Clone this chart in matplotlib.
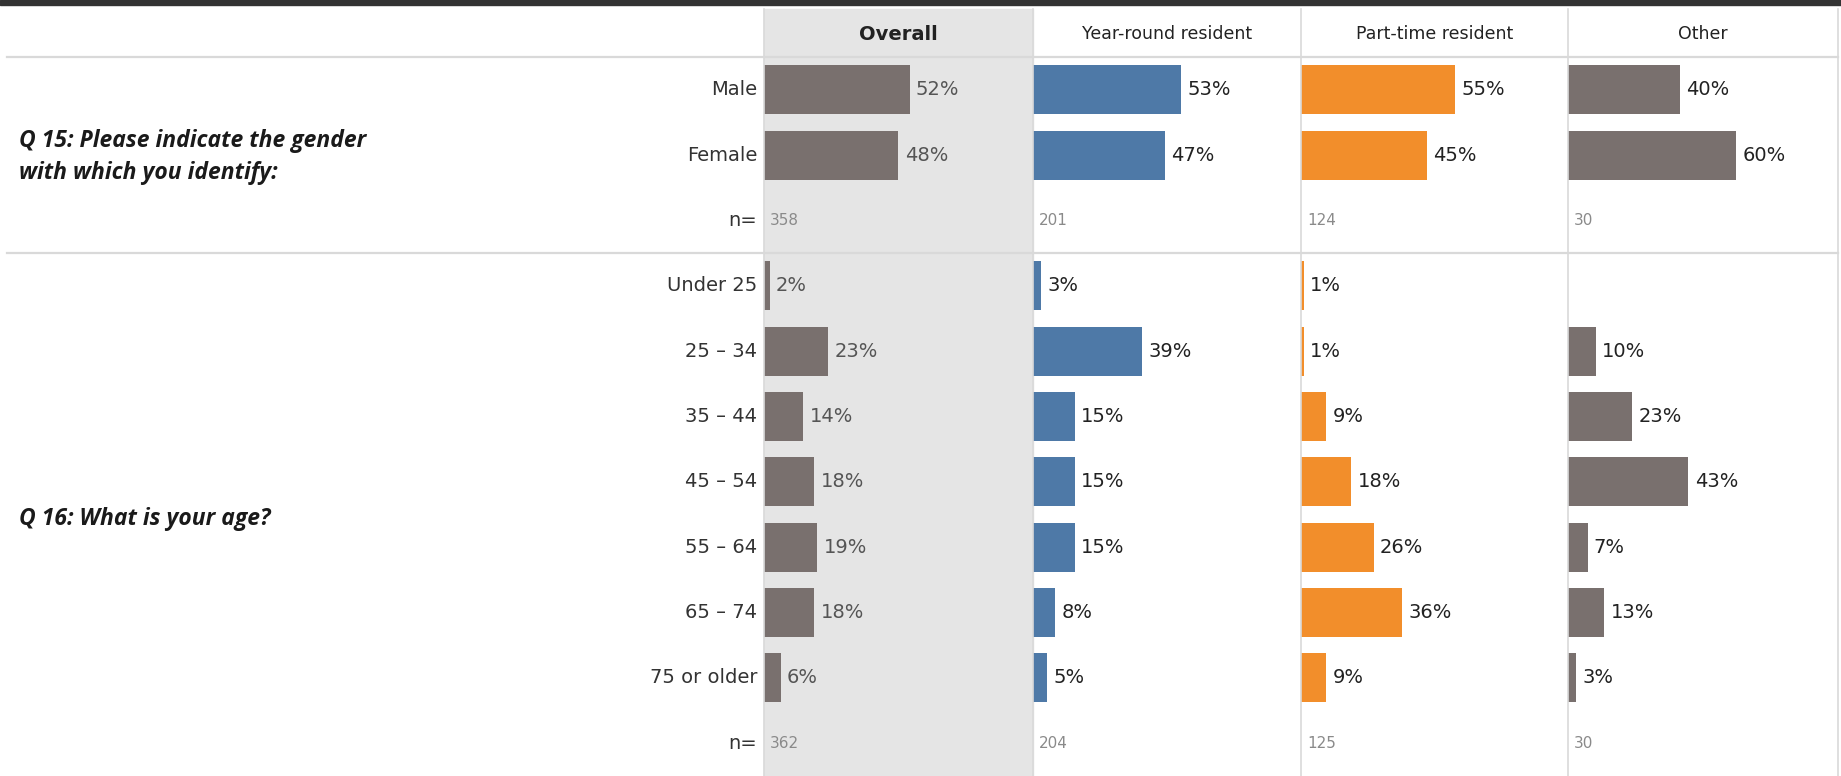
import matplotlib
matplotlib.use("Agg")
import matplotlib.pyplot as plt
from matplotlib.lines import Line2D
from matplotlib.patches import Rectangle

W, H = 1841, 776

# --- data ------------------------------------------------------------------ #
groups = ["Overall", "Year-round resident", "Part-time resident", "Other"]
gender_labels = ["Male", "Female"]
age_labels = ["Under 25", "25 \u2013 34", "35 \u2013 44", "45 \u2013 54",
              "55 \u2013 64", "65 \u2013 74", "75 or older"]

gender_overall = [52, 48]
gender_year = [53, 47]
gender_part = [55, 45]
gender_other = [40, 60]
gender_n = [358, 201, 124, 30]

age_overall = [2, 23, 14, 18, 19, 18, 6]
age_year = [3, 39, 15, 15, 15, 8, 5]
age_part = [1, 1, 9, 18, 26, 36, 9]
age_other = [None, 10, 23, 43, 7, 13, 3]
age_n = [362, 204, 125, 30]

q15_text = "Q 15: Please indicate the gender\nwith which you identify:"
q16_text = "Q 16: What is your age?"

bar_colors = ["#79706e", "#4e79a7", "#f28e2b", "#79706e"]

# --- layout (pixels) ------------------------------------------------------- #
col_edges = [764, 1033, 1301, 1568, 1838]
header_top, header_bot, sep_y, grid_bot = 9, 57, 253, 776
px_per_pct = 2.8
grid_col = "#d9d9d9"


def fx(x):
    return x / W


def fy(y):
    return 1 - y / H


fig = plt.figure(figsize=(W / 100, H / 100), dpi=100)
plt.rcParams["font.family"] = "DejaVu Sans"

# top dark strip and the grey band behind the Overall column
fig.add_artist(Rectangle((0, fy(4.5)), 1, 4.5 / H, transform=fig.transFigure,
                         color="#333333", zorder=0))
fig.add_artist(Rectangle((fx(col_edges[0]), fy(grid_bot)),
                         fx(col_edges[1]) - fx(col_edges[0]),
                         (grid_bot - header_top) / H,
                         transform=fig.transFigure, color="#e5e5e5", zorder=0))

row_labels = gender_labels + ["n="] + age_labels + ["n="]
n_rows = len(row_labels)
gender_cols = [gender_overall, gender_year, gender_part, gender_other]
age_cols = [age_overall, age_year, age_part, age_other]

for i, name in enumerate(groups):
    x0, x1 = col_edges[i], col_edges[i + 1]
    ax = fig.add_axes([fx(x0), fy(grid_bot), fx(x1) - fx(x0),
                       (grid_bot - header_bot) / H])
    ax.set_xlim(0, (x1 - x0) / px_per_pct)
    ax.set_ylim(n_rows, 0)
    ax.axis("off")
    ax.patch.set_alpha(0)

    vals = gender_cols[i] + [None] + age_cols[i] + [None]
    label_col = "#555555" if i == 0 else "#222222"
    for r, v in enumerate(vals):
        if v is None:
            continue
        ax.barh(r + 0.5, v, height=0.75, color=bar_colors[i], zorder=2)
        ax.annotate(f"{v}%", (v, r + 0.5), xytext=(4.5, 0),
                    textcoords="offset points", va="center", ha="left",
                    fontsize=14, color=label_col, annotation_clip=False)

    for r, n in ((2, gender_n[i]), (n_rows - 1, age_n[i])):
        ax.annotate(str(n), (0, r + 0.5), xytext=(4.5, 0),
                    textcoords="offset points", va="center", ha="left",
                    fontsize=11, color="#8a8a8a", annotation_clip=False)

    if i == 0:
        for r, lab in enumerate(row_labels):
            ax.annotate(lab, (0, r + 0.5), xytext=(-5, 0),
                        textcoords="offset points", va="center", ha="right",
                        fontsize=14, color="#333333", annotation_clip=False)

    fig.text(fx((x0 + x1) / 2), fy(34), name, ha="center", va="center",
             fontsize=14 if i == 0 else 12.5,
             fontweight="bold" if i == 0 else "normal", color="#222222")

# grid lines
for x in col_edges:
    fig.add_artist(Line2D([fx(x)] * 2, [fy(header_top), fy(grid_bot)],
                          color=grid_col, lw=1.2, zorder=1))
for y in (header_bot, sep_y):
    fig.add_artist(Line2D([fx(7), fx(col_edges[-1])], [fy(y)] * 2,
                          color=grid_col, lw=1.6, zorder=1))

# question titles
for text, yc in ((q15_text, 157), (q16_text, 519)):
    fig.text(fx(19), fy(yc), text, ha="left", va="center", fontsize=16.5,
             family="Open Sans", fontweight="bold", style="italic",
             color="#1a1a1a", linespacing=1.45)

fig.savefig("out.png", dpi=100)
